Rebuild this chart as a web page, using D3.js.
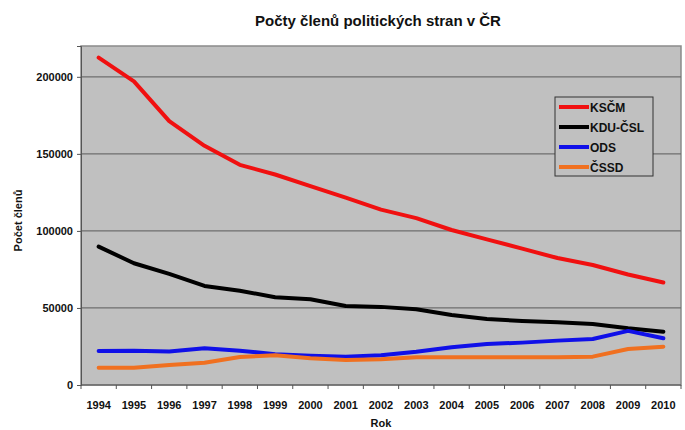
<!DOCTYPE html>
<html>
<head>
<meta charset="utf-8">
<script src="https://cdn.jsdelivr.net/npm/d3@7"></script>
<style>
  body { margin: 0; background: #fff; }
  text { font-family: "Liberation Sans", Arial, sans-serif; }
</style>
</head>
<body>
<div id="vis"></div>
<script>
const years = [1994, 1995, 1996, 1997, 1998, 1999, 2000, 2001, 2002, 2003, 2004, 2005, 2006, 2007, 2008, 2009, 2010];
const kscm = [212500, 197000, 171200, 155200, 142900, 136600, 129000, 121600, 113800, 108300, 100600, 94500, 88500, 82400, 77900, 71700, 66500];
const kdu = [89800, 79000, 72100, 64300, 61200, 57000, 55600, 51300, 50700, 49100, 45400, 42800, 41600, 40700, 39600, 36800, 34600];
const ods = [22100, 22300, 21800, 23800, 22300, 19900, 19000, 18400, 19300, 21600, 24500, 26600, 27500, 28800, 29900, 35100, 30300];
const cssd = [11200, 11200, 13000, 14500, 18200, 19300, 17300, 16200, 16700, 18000, 18000, 18000, 18000, 18000, 18400, 23400, 24900];
const yTicks = [0, 50000, 100000, 150000, 200000];

const series = [
    {name: "KSČM", values: kscm, color: "#f01010"},
    {name: "KDU-ČSL", values: kdu, color: "#000000"},
    {name: "ODS", values: ods, color: "#1010e8"},
    {name: "ČSSD", values: cssd, color: "#f07020"}
];

const W = 685, H = 430;
const margin = {top: 46, right: 4, bottom: 45, left: 81};
const width = W - margin.left - margin.right;
const height = H - margin.top - margin.bottom;

const svg = d3.select("#vis").append("svg")
    .attr("width", W)
    .attr("height", H);

const xScale = d3.scaleBand().domain(years).range([0, width]);
const yScale = d3.scaleLinear().domain([0, 220000]).range([height, 0]);

const g = svg.append("g").attr("transform", `translate(${margin.left},${margin.top})`);

// plot background
g.append("rect")
    .attr("width", width)
    .attr("height", height)
    .attr("fill", "#c0c0c0")
    .attr("stroke", "#8a8a8a")
    .attr("stroke-width", 1.5);

// gridlines
g.selectAll(".grid")
    .data(yTicks.filter(d => d > 0))
    .join("line")
    .attr("x1", 0)
    .attr("x2", width)
    .attr("y1", d => yScale(d))
    .attr("y2", d => yScale(d))
    .attr("stroke", "#6e6e6e")
    .attr("stroke-width", 1.2);

// y axis
const yAxis = g.append("g")
    .call(d3.axisLeft(yScale).tickValues(yTicks).tickSize(4).tickPadding(4).tickFormat(d3.format("d")));
yAxis.select(".domain").attr("stroke", "#555");
yAxis.selectAll(".tick line").attr("stroke", "#555");
yAxis.selectAll("text")
    .attr("font-size", 11)
    .attr("font-weight", "bold")
    .attr("fill", "#111");

// x axis: ticks at band edges
const xAxis = g.append("g").attr("transform", `translate(0,${height})`);
xAxis.append("line")
    .attr("x1", 0).attr("x2", width)
    .attr("stroke", "#555").attr("stroke-width", 1.2);
xAxis.selectAll(".xt")
    .data(years.concat(["end"]))
    .join("line")
    .attr("x1", (d, i) => i * xScale.step())
    .attr("x2", (d, i) => i * xScale.step())
    .attr("y1", 0).attr("y2", 4)
    .attr("stroke", "#555");
xAxis.selectAll(".xl")
    .data(years)
    .join("text")
    .attr("x", d => xScale(d) + xScale.bandwidth() / 2)
    .attr("y", 24)
    .attr("text-anchor", "middle")
    .attr("font-size", 11)
    .attr("font-weight", "bold")
    .attr("fill", "#111")
    .text(d => d);

// lines
const line = d3.line()
    .x((d, i) => xScale(years[i]) + xScale.bandwidth() / 2)
    .y(d => yScale(d));

g.selectAll(".series")
    .data(series)
    .join("path")
    .attr("fill", "none")
    .attr("stroke", d => d.color)
    .attr("stroke-width", 4)
    .attr("stroke-linecap", "round")
    .attr("stroke-linejoin", "round")
    .attr("d", d => line(d.values));

// legend
const legend = svg.append("g").attr("transform", "translate(555,97)");
legend.append("rect")
    .attr("width", 98)
    .attr("height", 79)
    .attr("fill", "#c0c0c0")
    .attr("stroke", "#333")
    .attr("stroke-width", 1);
const items = legend.selectAll(".item")
    .data(series)
    .join("g")
    .attr("transform", (d, i) => `translate(0,${10 + i * 20})`);
items.append("line")
    .attr("x1", 4).attr("x2", 34)
    .attr("stroke", d => d.color)
    .attr("stroke-width", 4);
items.append("text")
    .attr("x", 35)
    .attr("y", 4.5)
    .attr("font-size", 12)
    .attr("font-weight", "bold")
    .attr("fill", "#111")
    .text(d => d.name);

// titles
svg.append("text")
    .attr("x", 378)
    .attr("y", 26)
    .attr("text-anchor", "middle")
    .attr("font-size", 15)
    .attr("font-weight", "bold")
    .attr("fill", "#111")
    .text("Počty členů politických stran v ČR");

svg.append("text")
    .attr("x", margin.left + width / 2)
    .attr("y", 427)
    .attr("text-anchor", "middle")
    .attr("font-size", 11)
    .attr("font-weight", "bold")
    .attr("fill", "#111")
    .text("Rok");

svg.append("text")
    .attr("transform", `translate(22,${margin.top + height / 2 + 5}) rotate(-90)`)
    .attr("text-anchor", "middle")
    .attr("font-size", 11)
    .attr("font-weight", "bold")
    .attr("fill", "#111")
    .text("Počet členů");
</script>
</body>
</html>
